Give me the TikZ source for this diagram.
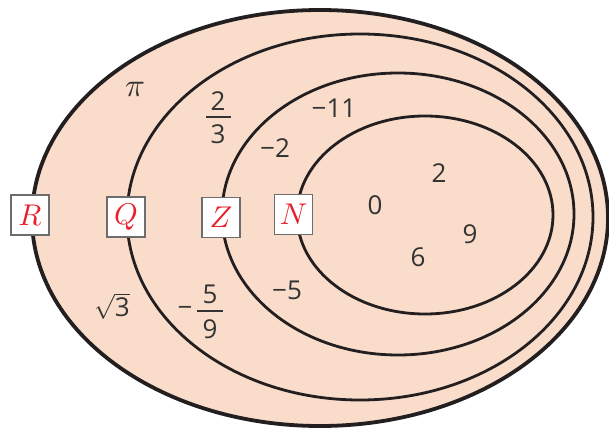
\documentclass[tikz,border=0pt]{standalone}
\usepackage{fontspec}
\usepackage{graphicx}
\newfontfamily\numfont{Open Sans}
\definecolor{peach}{HTML}{F9DCCA}
\definecolor{ink}{HTML}{231F20}
\definecolor{txt}{HTML}{333333}
\definecolor{lblred}{HTML}{E8202A}
\definecolor{boxgray}{HTML}{6D6D6D}
\newcommand{\biglet}[1]{\scalebox{3.0}{$#1$}}
\begin{document}
\begin{tikzpicture}[x=1pt,y=-1pt,
  setline/.style={draw=ink,line width=2.8pt},
  outerline/.style={draw=ink,line width=3.8pt},
  setlabel/.style={draw=boxgray,line width=1.1pt,fill=white,minimum width=38pt,minimum height=40pt,inner sep=0pt,text=lblred},
  num/.style={text=txt,inner sep=0pt,font=\numfont\fontsize{26}{28}\selectfont},
  fracbar/.style={draw=txt,line width=1.3pt}]
\useasboundingbox (0,0) rectangle (609,430);
% sets
\path[outerline,fill=peach] (320,218) ellipse [x radius=288pt, y radius=208pt];
\path[setline] (360,217) ellipse [x radius=233pt, y radius=183pt];
\path[setline] (398,214) ellipse [x radius=176pt, y radius=141pt];
\path[setline] (425,215) ellipse [x radius=128pt, y radius=99pt];
% labels
\node[setlabel] (R) at (30,215) {\biglet{R}};
\node[setlabel] (Q) at (126,217) {\biglet{Q}};
\node[setlabel] (Z) at (221,217.5) {\biglet{Z}};
\node[setlabel] (N) at (293.5,214.5) {\biglet{N}};
% numbers
\node[text=txt,inner sep=0pt] (pi) at (135,89) {\scalebox{3.3}{$\pi$}};
\node[num] (f1n) at (218,101) {2};
\draw[fracbar] (206,117) -- (231,117);
\node[num] (f1d) at (218,134) {3};
\node[num] (m11) at (334,108) {−11};
\node[num] (m2) at (275,148) {−2};
\node[num] (n0) at (375,205) {0};
\node[num] (n2) at (439,173) {2};
\node[num] (n9) at (470,234) {9};
\node[num] (n6) at (418,257) {6};
\node[num] (sq3) at (112,306) {$\sqrt{\mbox{\numfont 3}}$};
\node[num] (fm) at (185,311) {−};
\node[num] (f2n) at (210,294) {5};
\draw[fracbar] (197,311) -- (223,311);
\node[num] (f2d) at (210,329) {9};
\node[num] (m5) at (287,290) {−5};
\end{tikzpicture}
\end{document}
